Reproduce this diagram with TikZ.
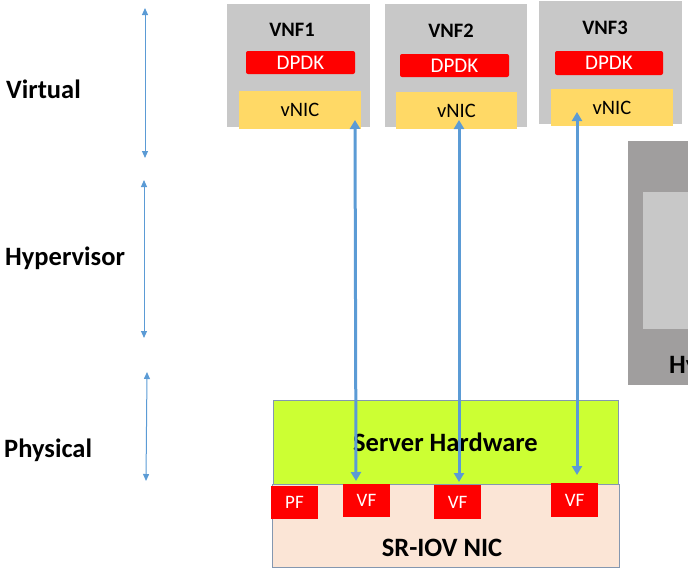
\documentclass[tikz,border=0pt]{standalone}
\usepackage{fontspec}
\setmainfont{Carlito}
\usetikzlibrary{arrows.meta}
\definecolor{vnfgrey}{HTML}{C8C8C8}
\definecolor{dpdkred}{HTML}{FF0000}
\definecolor{vnicyel}{HTML}{FFD966}
\definecolor{hwgreen}{HTML}{CCFF33}
\definecolor{nicpeach}{HTML}{FBE5D6}
\definecolor{arrblue}{HTML}{5B9BD5}
\definecolor{hvdark}{HTML}{A09E9E}
\definecolor{hvlight}{HTML}{C8C8C8}
\definecolor{hwborder}{HTML}{8497B0}
\tikzset{
  box/.style={inner sep=0pt, outer sep=0pt},
  dpdkbox/.style={box, fill=dpdkred, rounded corners=2pt, text=white, font=\fontsize{21}{23}\selectfont},
  vnicbox/.style={box, fill=vnicyel, font=\fontsize{20.5}{22}\selectfont},
  vnflabel/.style={font=\bfseries\fontsize{20.5}{22}\selectfont},
  layerlabel/.style={inner sep=0pt, font=\bfseries\fontsize{26.5}{28}\selectfont, anchor=west},
  fnbox/.style={box, fill=dpdkred, text=white, font=\fontsize{19}{21}\selectfont},
  link/.style={draw=arrblue, line width=3pt, {Triangle[width=10pt,length=9pt]}-{Triangle[width=10pt,length=9pt]}},
  layerarrow/.style={draw=arrblue, line width=1pt, {Triangle[width=6pt,length=7pt]}-{Triangle[width=6pt,length=7pt]}},
}
\begin{document}
\begin{tikzpicture}[x=1pt,y=-1pt]
\useasboundingbox (0,0) rectangle (688,570);
% layer labels
\node[layerlabel] (lv) at (6,89) {Virtual};
\node[layerlabel] (lh) at (5,258) {Hypervisor};
\node[layerlabel] (lp) at (4,450) {Physical};
% layer arrows
\coordinate (a1t) at (145,8); \coordinate (a1b) at (145,158);
\coordinate (a2t) at (144,180); \coordinate (a2b) at (144,338);
\coordinate (a3t) at (147,372); \coordinate (a3b) at (146,481);
\draw[layerarrow] (a1t) -- (a1b);
\draw[layerarrow] (a2t) -- (a2b);
\draw[layerarrow] (a3t) -- (a3b);
% VNF boxes
\fill[vnfgrey] (227,4) rectangle (370,127);
\fill[vnfgrey] (385,4) rectangle (527,127);
\fill[vnfgrey] (539,1) rectangle (682,124);
\node[vnflabel] (v1) at (292,30) {VNF1};
\node[vnflabel] (v2) at (451,31) {VNF2};
\node[vnflabel] (v3) at (605,28) {VNF3};
\node[dpdkbox, minimum width=109pt, minimum height=23pt] (d1) at (300.5,62.5) {DPDK};
\node[dpdkbox, minimum width=109pt, minimum height=23pt] (d2) at (454.5,65.5) {DPDK};
\node[dpdkbox, minimum width=108pt, minimum height=24pt] (d3) at (609,63) {DPDK};
\node[vnicbox, minimum width=122pt, minimum height=38pt] (n1) at (300,110) {vNIC};
\node[vnicbox, minimum width=121pt, minimum height=37pt] (n2) at (456.5,110.5) {vNIC};
\node[vnicbox, minimum width=122pt, minimum height=37pt] (n3) at (612,107.5) {vNIC};
% hypervisor box on the right (cut off at the picture's edge, as in the reference)
\begin{scope}
\clip (0,0) rectangle (688,570);
\fill[hvdark] (628,141) rectangle (760,385);
\fill[hvlight] (643,192) rectangle (760,329);
\node[inner sep=0pt, font=\bfseries\fontsize{26.5}{28}\selectfont, anchor=west] (hvt) at (669,366) {Hypervisor};
\end{scope}
% hardware
\node[box, fill=hwgreen, draw=hwborder, line width=0.6pt, minimum width=345pt, minimum height=84pt, font=\bfseries\fontsize{26.5}{28}\selectfont] (hw) at (445.5,442) {Server Hardware};
\node[box, fill=nicpeach, draw=hwborder, line width=0.6pt, minimum width=347pt, minimum height=83pt] (nic) at (445.5,525.5) {};
\node[font=\bfseries\fontsize{26.5}{28}\selectfont] (nict) at (442,548) {SR-IOV NIC};
\node[fnbox, minimum width=47pt, minimum height=33pt] (pf) at (294.5,502.5) {PF};
\node[fnbox, minimum width=47pt, minimum height=33pt] (vf1) at (366.5,500.5) {VF};
\node[fnbox, minimum width=47pt, minimum height=34pt] (vf2) at (457.5,502) {VF};
\node[fnbox, minimum width=47pt, minimum height=34pt] (vf3) at (574.5,500) {VF};
% links
\coordinate (l1t) at (355,120); \coordinate (l1b) at (356,481);
\coordinate (l2t) at (459,120); \coordinate (l2b) at (459,482);
\coordinate (l3t) at (577,112); \coordinate (l3b) at (577,475);
\draw[link] (l1t) -- (l1b);
\draw[link] (l2t) -- (l2b);
\draw[link] (l3t) -- (l3b);
\end{tikzpicture}
\end{document}
